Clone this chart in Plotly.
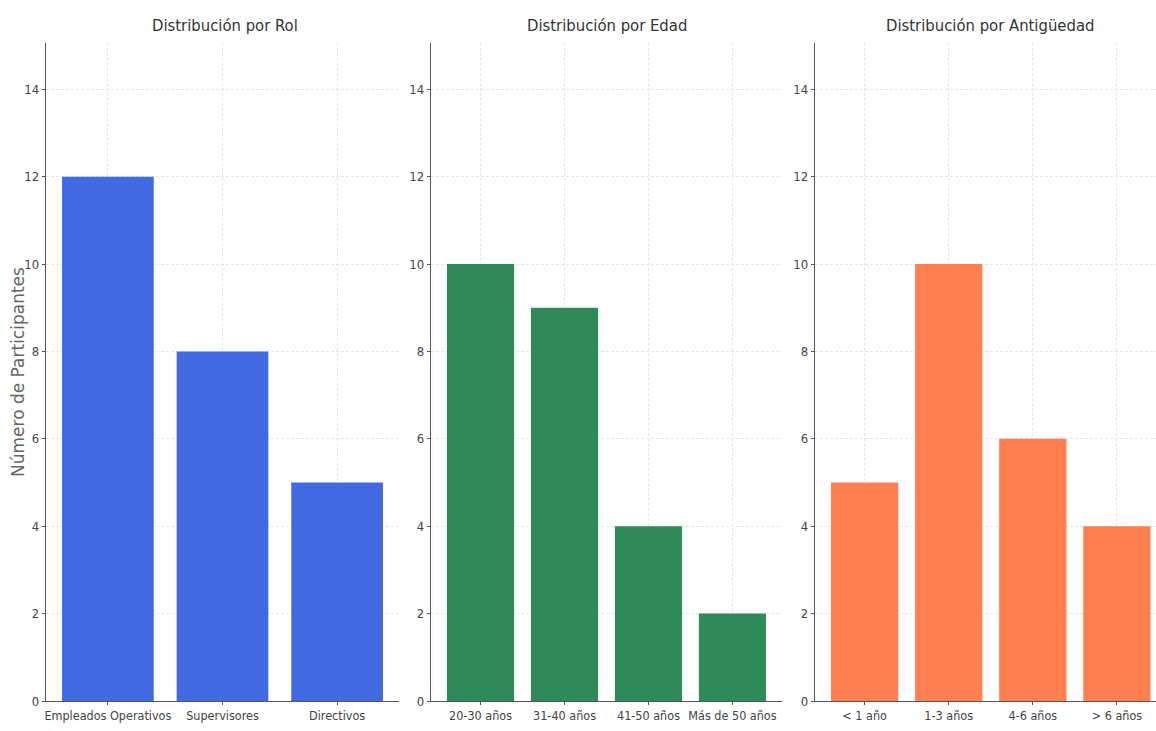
import plotly.graph_objects as go

roles = ["Empleados Operativos", "Supervisores", "Directivos"]
roles_vals = [12, 8, 5]
edades = ["20-30 años", "31-40 años", "41-50 años", "Más de 50 años"]
edades_vals = [10, 9, 4, 2]
antig = ["< 1 año", "1-3 años", "4-6 años", "> 6 años"]
antig_vals = [5, 10, 6, 4]
titles = ["Distribución por Rol", "Distribución por Edad", "Distribución por Antigüedad"]
colors = ["#4169E1", "#2E8B57", "#FF7F50"]
y_ticks = [0, 2, 4, 6, 8, 10, 12, 14]
y_label = "Número de Participantes"

COND = "DejaVu Sans Condensed, Liberation Sans Narrow, Arial Narrow, DejaVu Sans, sans-serif"
W, H = 1156, 731
ml, mr, mt, mb = 46, 0, 43, 30
pw = W - ml - mr

def dom(a, b):
    return [(a - ml) / pw, min((b - ml) / pw, 1.0)]

domains = [dom(46, 399), dom(431, 782), dom(815, 1156)]
ranges = [[-0.54, 2.54], [-0.59, 3.59], [-0.59, 3.465]]
title_x = [225, 607, 990]

fig = go.Figure()
data = [(roles, roles_vals), (edades, edades_vals), (antig, antig_vals)]
for i, ((cats, vals), col) in enumerate(zip(data, colors)):
    xa = "x" if i == 0 else f"x{i+1}"
    ya = "y" if i == 0 else f"y{i+1}"
    fig.add_trace(go.Bar(x=cats, y=vals, marker=dict(color=col, line=dict(width=0)),
                         width=0.8, xaxis=xa, yaxis=ya, showlegend=False))
    axkey = "" if i == 0 else str(i + 1)
    fig.update_layout(**{
        f"xaxis{axkey}": dict(domain=domains[i], anchor=ya, type="category", range=ranges[i],
                              showgrid=True, gridcolor="#e6e6e6", griddash="3px,2px", gridwidth=1,
                              showline=True, linecolor="#555555", linewidth=1.3,
                              ticks="outside", ticklen=3, tickcolor="#555555",
                              tickfont=dict(family=COND, size=12.5, color="#444444"),
                              zeroline=False, fixedrange=True),
        f"yaxis{axkey}": dict(domain=[0, 1], anchor=xa, range=[0, 15.06], tickvals=y_ticks,
                              showgrid=True, gridcolor="#e6e6e6", griddash="3px,2px", gridwidth=1,
                              showline=True, linecolor="#555555", linewidth=1.3,
                              ticks="outside", ticklen=3, tickcolor="#555555",
                              tickfont=dict(family=COND, size=13, color="#444444"),
                              zeroline=False, fixedrange=True),
    })
    fig.add_annotation(text=titles[i], xref="paper", yref="paper",
                       x=(title_x[i] - ml) / pw, y=1, yshift=18, showarrow=False,
                       xanchor="center", yanchor="middle",
                       font=dict(family=COND, size=16.5, color="#333333"))

fig.add_annotation(text=y_label, xref="paper", yref="paper",
                   x=(18 - ml) / pw, y=0.5, showarrow=False, textangle=-90,
                   xanchor="center", yanchor="middle",
                   font=dict(family="DejaVu Sans, sans-serif", size=17, color="#666666"))

fig.update_layout(
    width=W, height=H,
    margin=dict(l=ml, r=mr, t=mt, b=mb),
    paper_bgcolor="white", plot_bgcolor="white",
    bargap=0.2,
)

fig.write_html("out.html")
